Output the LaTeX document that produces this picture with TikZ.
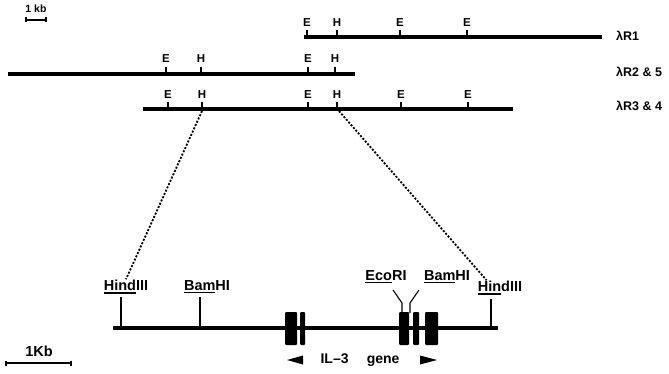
\documentclass[tikz,border=0pt]{standalone}
\usepackage{fontspec}
\setmainfont{Liberation Sans}
\usetikzlibrary{arrows.meta}

% part of a name set with a bar under it
\newcommand{\ulpart}[1]{\setbox0\hbox{#1}\rlap{\rule[-2.6pt]{\wd0}{1.4pt}}\box0}

\begin{document}
\begin{tikzpicture}[
  x=1pt, y=-1pt,
  clone/.style={line width=4.2pt},
  gene/.style={line width=4.6pt},
  tick/.style={line width=1.8pt},
  cut/.style={line width=1.1pt},
  site/.style={inner sep=0pt, font=\bfseries\fontsize{11.5}{11}\selectfont},
  enz/.style={inner sep=1pt, font=\bfseries\fontsize{14.5}{14}\selectfont},
  tag/.style={anchor=west, inner sep=0pt, font=\bfseries\fontsize{12.5}{12}\selectfont},
  link/.style={line width=1.8pt, dash pattern=on 2pt off 1.6pt},
  exon/.style={fill=black, rounded corners=1pt},
  bar/.style={line width=1.6pt, {Bar[width=5pt]}-{Bar[width=5pt]}}
]
  \useasboundingbox (0,0) rectangle (669,374);

  % scale of the phage clones
  \node[site, font=\bfseries\fontsize{10.5}{10}\selectfont] (kbtop) at (36,9) {1 kb};
  \coordinate (kb1) at (25,20);
  \coordinate (kb2) at (47,20);
  \draw[bar] (kb1) -- (kb2);

  % the three clones
  \coordinate (r1a) at (304,37);  \coordinate (r1b) at (602,37);
  \coordinate (r2a) at (8,74);    \coordinate (r2b) at (355,74);
  \coordinate (r3a) at (143,109); \coordinate (r3b) at (513,109);
  \draw[clone] (r1a) -- (r1b);
  \draw[clone] (r2a) -- (r2b);
  \draw[clone] (r3a) -- (r3b);
  \node[tag] (lr1) at (616,36) {λR1};
  \node[tag] (lr2) at (616,72) {λR2 \& 5};
  \node[tag] (lr3) at (616,106) {λR3 \& 4};

  \foreach \x/\l in {307/E, 337/H, 400/E, 467/E} {
    \node[site] at (\x,23) {\l};
    \draw[tick] (\x,30) -- (\x,37);
  }
  \foreach \x/\l in {166/E, 201/H, 308/E, 335/H} {
    \node[site] at (\x,59) {\l};
    \draw[tick] (\x,67) -- (\x,74);
  }
  \foreach \x/\l in {168/E, 202/H, 308/E, 337/H, 401/E, 468/E} {
    \node[site] at (\x,95) {\l};
    \draw[tick] (\x,102) -- (\x,109);
  }
  \coordinate (hl) at (202,111);
  \coordinate (hr) at (339,111);

  % the HindIII fragment
  \coordinate (ga) at (113,328);
  \coordinate (gb) at (498,328);
  \draw[gene] (ga) -- (gb);

  \node[enz] (hindL) at (126,287) {\ulpart{Hind}III};
  \node[enz] (bamL) at (207,287) {\ulpart{Bam}HI};
  \node[enz] (eco) at (386,277) {\ulpart{Eco}RI};
  \node[enz] (bamR) at (447,277) {\ulpart{Bam}HI};
  \node[enz] (hindR) at (500,288) {\ulpart{Hin}dIII};

  \draw[cut] (121,297) -- (121,328);
  \draw[cut] (200,297) -- (200,328);
  \draw[cut] (491,299) -- (491,328);
  \draw[cut] (393,290) -- (402,303) -- (402,313);
  \draw[cut] (419,290) -- (410,303) -- (410,313);

  \draw[link] (hl) -- (hindL.north);
  \draw[link] (hr) -- (hindR.150);

  % exons
  \foreach \a/\b in {285/297, 300/305, 399/409, 413/419, 425/438}
    \fill[exon] (\a,312) rectangle (\b,345);

  % direction of the gene
  \fill (287,360) -- (303,355.5) -- (303,364.5) -- cycle;
  \fill (437,360) -- (420,355.5) -- (420,364.5) -- cycle;
  \node[enz, font=\bfseries\fontsize{14}{13}\selectfont] (il3) at (360,360) {IL--3\hspace{1.3em}gene};

  % scale of the map
  \node[enz] (kbbot) at (39,351) {1Kb};
  \coordinate (kb3) at (5,363);
  \coordinate (kb4) at (72,363);
  \draw[bar] (kb3) -- (kb4);
\end{tikzpicture}
\end{document}
